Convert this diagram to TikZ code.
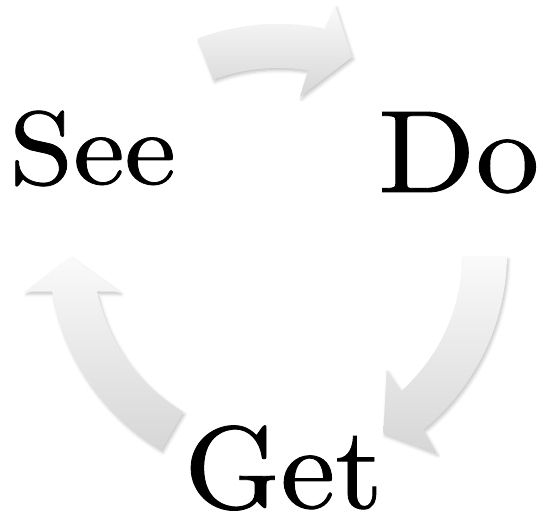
\documentclass[tikz,border=0pt]{standalone}
\usepackage{fontspec}
\newfontfamily\wordfont{lmroman10-regular.otf}[FakeBold=0.7]
\usetikzlibrary{shadows.blur}
\begin{document}
\begin{tikzpicture}[x=1pt,y=1pt,
  cyclearrow/.style={draw=none, top color=black!2, bottom color=black!16,
    blur shadow={shadow xshift=1.5pt, shadow yshift=-2.5pt, shadow blur radius=3pt, shadow opacity=22}},
  word/.style={inner sep=0pt, anchor=base west, text=black}]
\useasboundingbox (0,0) rectangle (543,513);
\begin{scope}[shift={(278,260)}]
  % top arrow: See -> Do
  \path[cyclearrow] (110.5:229) arc[start angle=110.5, end angle=78.2, radius=229]
    -- (77:254) -- (69.3:209.5) -- (82:157.5) -- (80.7:185)
    arc[start angle=80.7, end angle=110.5, radius=185] -- cycle;
  % right arrow: Do -> Get
  \path[cyclearrow] (-1:229) arc[start angle=-1, end angle=-50.6, radius=229]
    -- (-51.6:255.6) -- (-59.7:208.8) -- (-47.1:159.7) -- (-48.3:185)
    arc[start angle=-48.3, end angle=-1, radius=185] -- cycle;
  % left arrow: Get -> See
  \path[cyclearrow] (239.4:229) arc[start angle=239.4, end angle=189.7, radius=229]
    -- (188.7:256) -- (181:208) -- (193.8:162.7) -- (192:185)
    arc[start angle=192, end angle=239.2, radius=185] -- cycle;
\end{scope}
\node[word] (see) at (9,329) {\scalebox{1.11}[1]{\fontsize{104}{104}\wordfont See}};
\node[word] (do) at (378,321) {\scalebox{1.09}[1]{\fontsize{117}{117}\wordfont Do}};
\node[word] (get) at (184,5) {\scalebox{1.05}[1]{\fontsize{117}{117}\wordfont Get}};
\end{tikzpicture}
\end{document}
